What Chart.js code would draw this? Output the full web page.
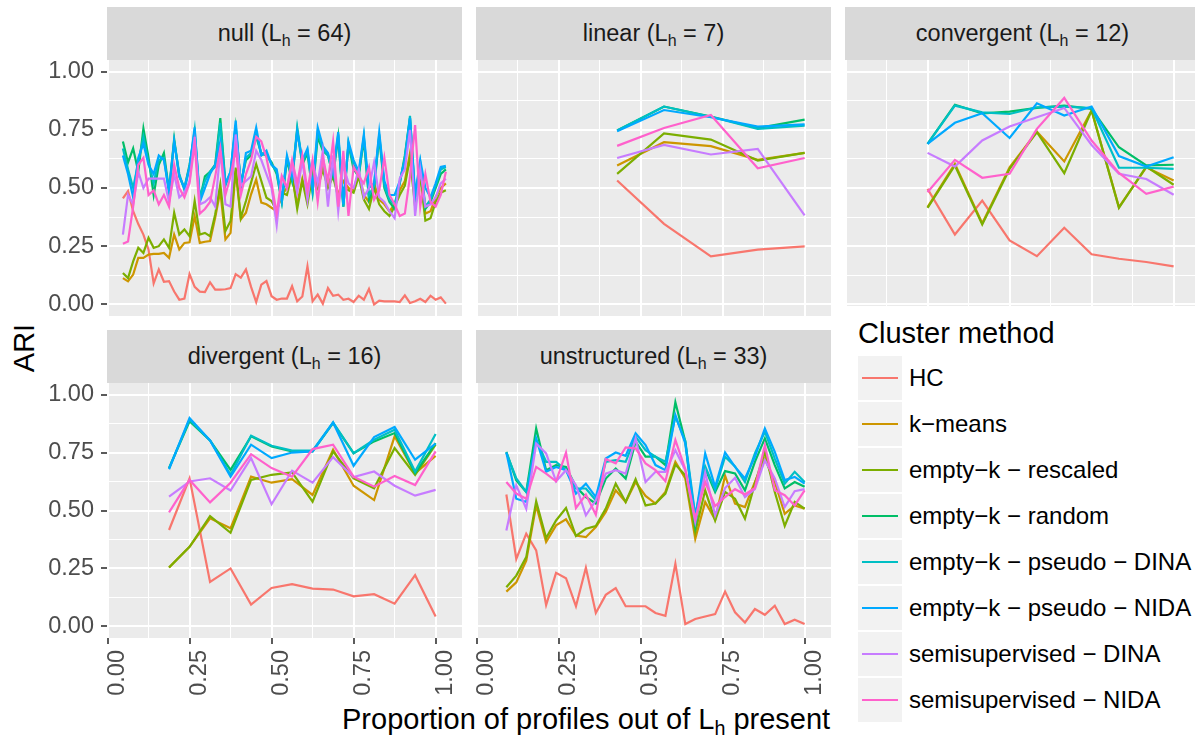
<!DOCTYPE html>
<html><head><meta charset="utf-8">
<script src="https://cdn.jsdelivr.net/npm/chart.js@4.4.0/dist/chart.umd.min.js"></script>
<style>
html,body{margin:0;padding:0;background:#fff;width:1195px;height:742px;overflow:hidden;position:relative;font-family:"Liberation Sans",Arial,Helvetica,sans-serif;}
canvas{position:absolute;}
.strip{position:absolute;background:#D9D9D9;color:#1A1A1A;font-size:23.5px;display:flex;align-items:center;justify-content:center;white-space:nowrap;}
.sub{font-size:68%;position:relative;top:0.32em;}
#legend{position:absolute;left:845px;top:306px;width:350px;height:436px;background:#fff;z-index:5;}
#ltitle{position:absolute;left:13px;top:13px;font-size:29px;line-height:29px;color:#000;white-space:nowrap;}
.litem{position:absolute;left:13px;height:43px;width:330px;}
.lkey{position:absolute;left:0;top:0;width:43.5px;height:43.5px;background:#F2F2F2;}
.lline{position:absolute;left:4px;width:36px;top:20.5px;height:2.2px;}
.ltext{position:absolute;left:51px;top:0;height:43.5px;line-height:43.5px;font-size:24px;color:#000;white-space:nowrap;}
#xtitle{position:absolute;left:342px;top:705px;font-size:29px;line-height:29px;color:#000;white-space:nowrap;}
#ytitle{position:absolute;left:24px;top:348px;font-size:29px;line-height:29px;color:#000;white-space:nowrap;transform:translate(-50%,-50%) rotate(-90deg);}
</style></head><body>
<div id="xtitle">Proportion of profiles out of L<span class="sub">h</span> present</div>
<div id="ytitle">ARI</div>
<div id="legend"><div id="ltitle">Cluster method</div></div>
<script>
// ---------- categories ----------
const seriesNames = ['HC','k\u2212means','empty\u2212k \u2212 rescaled','empty\u2212k \u2212 random','empty\u2212k \u2212 pseudo \u2212 DINA','empty\u2212k \u2212 pseudo \u2212 NIDA','semisupervised \u2212 DINA','semisupervised \u2212 NIDA'];
const seriesColors = ['#F8766D','#CD9600','#7CAE00','#00BE67','#00BFC4','#00A9FF','#C77CFF','#FF61CC'];
const panelNames = ['null','linear','convergent','divergent','unstructured'];
const panelLh = [64,7,12,16,33];
const panelKFirst = [3,3,3,3,3];
const panelKLast = [66,7,12,16,33];
const yMajorTicks = [0,0.25,0.5,0.75,1];
const yMinorTicks = [0.125,0.375,0.625,0.875];
const xMajorTicks = [0,0.25,0.5,0.75,1];
const xMinorTicks = [0.125,0.375,0.625,0.875];
const xLimits = [-0.0016,1.0804];
const yLimits = [-0.05,1.05];

// ---------- null (L_h = 64), k = 3..66 ----------
const null_HC = [0.455,0.487,0.40,0.345,0.30,0.235,0.09,0.15, 0.097,0.10,0.055,0.02,0.025,0.13,0.075,0.055, 0.053,0.095,0.063,0.063,0.065,0.07,0.13,0.115, 0.15,0.075,0.01,0.085,0.10,0.035,0.02,0.025, 0.025,0.078,0.013,0.034,0.164,0.013,0.042,0.003, 0.07,0.037,0.042,0.02,0.024,0.01,0.037,0.02, 0.066,0.0,0.016,0.013,0.013,0.013,0.01,0.039, 0.006,0.013,0.024,0.01,0.037,0.02,0.03,0.003];
const null_KM = [0.113,0.099,0.128,0.20,0.20,0.214,0.217,0.217, 0.221,0.20,0.30,0.236,0.264,0.267,0.379,0.264, 0.269,0.272,0.372,0.487,0.279,0.307,0.573,0.365, 0.394,0.473,0.537,0.437,0.43,0.415,0.40,0.47, 0.50,0.55,0.43,0.54,0.45,0.58,0.52,0.60, 0.51,0.57,0.47,0.53,0.50,0.49,0.57,0.47, 0.44,0.52,0.45,0.43,0.40,0.43,0.49,0.53, 0.65,0.44,0.57,0.39,0.40,0.46,0.50,0.52];
const null_RS = [0.135,0.113,0.185,0.243,0.221,0.286,0.243,0.25, 0.279,0.243,0.394,0.30,0.322,0.293,0.444,0.30, 0.307,0.293,0.386,0.516,0.315,0.358,0.588,0.372, 0.444,0.523,0.602,0.53,0.458,0.444,0.40,0.48, 0.47,0.56,0.41,0.53,0.43,0.56,0.50,0.58, 0.50,0.55,0.46,0.50,0.49,0.48,0.55,0.45, 0.41,0.50,0.43,0.40,0.38,0.42,0.47,0.51, 0.63,0.42,0.55,0.36,0.37,0.44,0.48,0.49];
const null_RD = [0.70,0.61,0.67,0.57,0.755,0.63,0.47,0.60, 0.65,0.49,0.71,0.55,0.50,0.60,0.73,0.45, 0.55,0.57,0.60,0.80,0.52,0.56,0.76,0.52, 0.62,0.64,0.72,0.65,0.64,0.61,0.56,0.44, 0.62,0.53,0.75,0.60,0.65,0.48,0.72,0.66, 0.64,0.55,0.72,0.42,0.69,0.58,0.55,0.71, 0.45,0.50,0.72,0.50,0.44,0.41,0.52,0.64, 0.80,0.45,0.60,0.41,0.44,0.50,0.56,0.58];
const null_PD = [0.67,0.58,0.50,0.61,0.72,0.61,0.52,0.62, 0.63,0.48,0.70,0.56,0.49,0.59,0.75,0.46, 0.53,0.57,0.59,0.78,0.51,0.57,0.77,0.51, 0.63,0.65,0.74,0.64,0.65,0.60,0.57,0.44, 0.63,0.54,0.76,0.61,0.66,0.49,0.74,0.67, 0.64,0.56,0.73,0.42,0.69,0.60,0.56,0.72, 0.47,0.51,0.73,0.51,0.45,0.43,0.52,0.63, 0.81,0.46,0.61,0.42,0.45,0.51,0.58,0.59];
const null_PN = [0.64,0.56,0.46,0.63,0.69,0.60,0.56,0.64, 0.62,0.49,0.70,0.55,0.50,0.59,0.76,0.44, 0.50,0.56,0.60,0.70,0.52,0.57,0.79,0.50, 0.65,0.66,0.76,0.64,0.66,0.60,0.58,0.45, 0.64,0.55,0.74,0.62,0.67,0.50,0.76,0.68, 0.65,0.57,0.74,0.43,0.70,0.62,0.57,0.73, 0.50,0.52,0.74,0.53,0.47,0.47,0.53,0.62, 0.80,0.47,0.62,0.50,0.46,0.52,0.59,0.595];
const null_SD = [0.30,0.47,0.43,0.57,0.50,0.54,0.54,0.54, 0.54,0.44,0.56,0.46,0.48,0.53,0.72,0.43, 0.44,0.46,0.42,0.66,0.43,0.42,0.73,0.51, 0.53,0.55,0.66,0.62,0.56,0.50,0.34,0.55, 0.50,0.60,0.48,0.62,0.45,0.61,0.52,0.66, 0.42,0.64,0.40,0.60,0.52,0.50,0.58,0.46, 0.50,0.61,0.46,0.44,0.40,0.37,0.54,0.58, 0.75,0.38,0.58,0.42,0.43,0.46,0.52,0.54];
const null_SN = [0.26,0.27,0.42,0.60,0.63,0.47,0.49,0.43, 0.47,0.42,0.60,0.50,0.46,0.52,0.69,0.39, 0.41,0.44,0.55,0.67,0.47,0.55,0.67,0.47, 0.56,0.62,0.72,0.70,0.63,0.52,0.39,0.55, 0.50,0.62,0.52,0.64,0.49,0.62,0.44,0.63, 0.53,0.70,0.42,0.66,0.38,0.59,0.55,0.52, 0.59,0.45,0.49,0.63,0.47,0.43,0.38,0.39, 0.55,0.77,0.42,0.56,0.44,0.42,0.47,0.57];

// ---------- linear (L_h = 7), k = 3..7 ----------
const linear_HC = [0.532,0.346,0.206,0.235,0.249];
const linear_KM = [0.597,0.697,0.680,0.621,0.651];
const linear_RS = [0.561,0.735,0.708,0.618,0.651];
const linear_RD = [0.747,0.850,0.807,0.757,0.794];
const linear_PD = [0.747,0.850,0.806,0.754,0.768];
const linear_PN = [0.744,0.835,0.804,0.764,0.773];
const linear_SD = [0.629,0.685,0.644,0.668,0.382];
const linear_SN = [0.681,0.758,0.814,0.585,0.629];

// ---------- convergent (L_h = 12), k = 3..12 ----------
const conv_HC = [0.496,0.300,0.446,0.275,0.207,0.329,0.215,0.196,0.182,0.163];
const conv_KM = [0.418,0.604,0.349,0.589,0.742,0.614,0.833,0.418,0.589,0.532];
const conv_RS = [0.415,0.597,0.343,0.582,0.740,0.564,0.833,0.415,0.592,0.514];
const conv_RD = [0.690,0.858,0.821,0.828,0.844,0.854,0.840,0.675,0.597,0.600];
const conv_PD = [0.690,0.854,0.825,0.818,0.847,0.850,0.844,0.587,0.587,0.582];
const conv_PN = [0.690,0.780,0.821,0.715,0.864,0.811,0.850,0.637,0.592,0.632];
const conv_SD = [0.651,0.592,0.704,0.764,0.804,0.844,0.685,0.561,0.539,0.471];
const conv_SN = [0.482,0.621,0.544,0.561,0.754,0.887,0.704,0.565,0.475,0.506];

// ---------- divergent (L_h = 16), k = 3..16 ----------
const div_HC = [0.416,0.639,0.192,0.250,0.094,0.166,0.182,0.163,0.159,0.130,0.139,0.098,0.221,0.043];
const div_KM = [0.254,0.343,0.466,0.423,0.646,0.620,0.635,0.567,0.762,0.607,0.545,0.820,0.661,0.736];
const div_RS = [0.254,0.343,0.476,0.404,0.632,0.654,0.664,0.538,0.755,0.639,0.596,0.769,0.654,0.784];
const div_RD = [0.683,0.885,0.802,0.675,0.820,0.776,0.755,0.755,0.877,0.747,0.798,0.834,0.661,0.791];
const div_PD = [0.683,0.892,0.802,0.654,0.823,0.779,0.758,0.758,0.880,0.747,0.805,0.848,0.668,0.830];
const div_PN = [0.678,0.899,0.802,0.646,0.784,0.726,0.750,0.755,0.880,0.693,0.817,0.860,0.719,0.788];
const div_SD = [0.560,0.625,0.639,0.586,0.726,0.527,0.672,0.620,0.730,0.644,0.668,0.607,0.564,0.589];
const div_SN = [0.492,0.632,0.535,0.620,0.743,0.683,0.646,0.765,0.784,0.646,0.603,0.649,0.610,0.755];

// ---------- unstructured (L_h = 33), k = 3..33 ----------
const uns_HC = [0.569,0.291,0.400,0.328,0.092,0.231,0.208,0.087,0.253,0.058,0.136,0.165,0.087,0.087,0.087,0.058,0.046,0.270,0.010,0.032,0.043,0.053,0.150,0.061,0.017,0.075,0.050,0.089,0.010,0.029,0.010];
const uns_KM = [0.150,0.190,0.284,0.522,0.364,0.436,0.462,0.392,0.385,0.429,0.494,0.587,0.537,0.623,0.563,0.530,0.580,0.710,0.638,0.378,0.537,0.460,0.650,0.530,0.515,0.623,0.724,0.623,0.486,0.522,0.508];
const uns_RS = [0.169,0.219,0.299,0.540,0.381,0.457,0.511,0.390,0.421,0.433,0.508,0.616,0.537,0.635,0.522,0.530,0.573,0.698,0.652,0.407,0.587,0.457,0.580,0.551,0.465,0.616,0.753,0.580,0.433,0.537,0.508];
const uns_RD = [0.753,0.630,0.580,0.854,0.674,0.696,0.688,0.602,0.558,0.530,0.638,0.681,0.638,0.797,0.732,0.732,0.696,0.967,0.797,0.436,0.681,0.580,0.670,0.660,0.587,0.710,0.811,0.696,0.595,0.623,0.602];
const uns_PD = [0.750,0.638,0.580,0.804,0.710,0.710,0.674,0.595,0.595,0.544,0.710,0.717,0.710,0.818,0.760,0.732,0.710,0.905,0.800,0.479,0.690,0.590,0.732,0.690,0.623,0.746,0.840,0.724,0.616,0.667,0.623];
const uns_PN = [0.750,0.551,0.537,0.811,0.667,0.688,0.674,0.573,0.616,0.558,0.724,0.750,0.736,0.833,0.782,0.696,0.674,0.912,0.789,0.465,0.746,0.602,0.750,0.688,0.638,0.732,0.854,0.753,0.631,0.645,0.616];
const uns_SD = [0.414,0.609,0.508,0.789,0.746,0.626,0.674,0.609,0.479,0.544,0.659,0.674,0.659,0.811,0.623,0.667,0.667,0.760,0.674,0.450,0.664,0.479,0.597,0.641,0.558,0.592,0.717,0.638,0.515,0.583,0.592];
const uns_SN = [0.623,0.573,0.551,0.688,0.659,0.626,0.750,0.511,0.569,0.482,0.722,0.703,0.772,0.768,0.703,0.674,0.626,0.804,0.678,0.465,0.623,0.519,0.558,0.592,0.569,0.597,0.782,0.587,0.566,0.522,0.587];

const panelSeries = [
  [null_HC,null_KM,null_RS,null_RD,null_PD,null_PN,null_SD,null_SN],
  [linear_HC,linear_KM,linear_RS,linear_RD,linear_PD,linear_PN,linear_SD,linear_SN],
  [conv_HC,conv_KM,conv_RS,conv_RD,conv_PD,conv_PN,conv_SD,conv_SN],
  [div_HC,div_KM,div_RS,div_RD,div_PD,div_PN,div_SD,div_SN],
  [uns_HC,uns_KM,uns_RS,uns_RD,uns_PD,uns_PN,uns_SD,uns_SN]
];

// ---------- layout (positions only) ----------
const colLeft = [107,476,845];
const rowTop = [60,383];
const rowH = [256,255];
const stripTop = [7,330];
const panelW = 355;
const xAxisH = 75;
const panelPos = [
  {col:0,row:0,yAxis:true,xAxis:false,leftPad:67},
  {col:1,row:0,yAxis:false,xAxis:false,leftPad:0},
  {col:2,row:0,yAxis:false,xAxis:false,leftPad:0},
  {col:0,row:1,yAxis:true,xAxis:true,leftPad:67},
  {col:1,row:1,yAxis:false,xAxis:true,leftPad:14}
];
const FONT = '"Liberation Sans", Arial, Helvetica, sans-serif';

const bgPlugin = {
  id:'panelBg',
  beforeDraw(chart){
    const {ctx, chartArea:a} = chart;
    ctx.save(); ctx.fillStyle = '#EBEBEB';
    ctx.fillRect(a.left, a.top, a.right-a.left, a.bottom-a.top);
    ctx.restore();
  }
};

function isMajor(list, v){ return list.some(t => Math.abs(t - v) < 1e-9); }
function noPad(s){ s.paddingTop = 0; s.paddingBottom = 0; s.paddingLeft = 0; s.paddingRight = 0; }

panelNames.forEach((name, p) => {
  const pos = panelPos[p];
  // strip
  const strip = document.createElement('div');
  strip.className = 'strip';
  strip.style.left = colLeft[pos.col] + 'px';
  strip.style.top = stripTop[pos.row] + 'px';
  strip.style.width = panelW + 'px';
  strip.style.height = (rowTop[pos.row] - stripTop[pos.row]) + 'px';
  strip.innerHTML = '<span>' + name + ' (L<span class="sub">h</span> = ' + panelLh[p] + ')</span>';
  document.body.appendChild(strip);

  const cv = document.createElement('canvas');
  const w = panelW + pos.leftPad;
  const h = rowH[pos.row] + (pos.xAxis ? xAxisH : 0);
  cv.width = w; cv.height = h;
  cv.style.left = (colLeft[pos.col] - pos.leftPad) + 'px';
  cv.style.top = rowTop[pos.row] + 'px';
  cv.style.width = w + 'px'; cv.style.height = h + 'px';
  document.body.appendChild(cv);

  const xs = [];
  for (let k = panelKFirst[p]; k <= panelKLast[p]; k++) xs.push(k / panelLh[p]);

  const datasets = panelSeries[p].map((vals, i) => ({
    label: seriesNames[i],
    data: vals.map((v, j) => ({x: xs[j], y: v})),
    borderColor: seriesColors[i],
    backgroundColor: seriesColors[i],
    borderWidth: 2.2,
    pointRadius: 0,
    fill: false,
    tension: 0,
    order: seriesNames.length - 1 - i
  }));

  const xTickVals = xMajorTicks.concat(xMinorTicks).sort((a,b)=>a-b);
  const yTickVals = yMajorTicks.concat(yMinorTicks).sort((a,b)=>a-b);

  new Chart(cv.getContext('2d'), {
    type: 'line',
    data: {datasets},
    plugins: [bgPlugin],
    options: {
      responsive: false, animation: false, devicePixelRatio: 1,
      layout: {padding: 0, autoPadding: false},
      plugins: {legend: {display: false}, tooltip: {enabled: false}, title: {display: false}},
      scales: {
        x: {
          type: 'linear', min: xLimits[0], max: xLimits[1],
          afterBuildTicks: s => { s.ticks = xTickVals.map(v => ({value: v})); },
          afterFit: s => { s.height = pos.xAxis ? xAxisH : 0; noPad(s); },
          border: {display: false},
          grid: {
            color: '#FFFFFF',
            lineWidth: c => (c.tick && isMajor(xMajorTicks, c.tick.value)) ? 2 : 1,
            drawTicks: pos.xAxis, tickLength: 6,
            tickColor: c => (c.tick && isMajor(xMajorTicks, c.tick.value)) ? '#333333' : 'rgba(0,0,0,0)',
            tickWidth: 1.6
          },
          ticks: {
            display: pos.xAxis, autoSkip: false, minRotation: 90, maxRotation: 90, padding: 6, labelOffset: 10,
            color: '#4D4D4D', font: {family: FONT, size: 23.5},
            callback: v => isMajor(xMajorTicks, v) ? v.toFixed(2) : ''
          }
        },
        y: {
          type: 'linear', min: yLimits[0], max: yLimits[1],
          afterBuildTicks: s => { s.ticks = yTickVals.map(v => ({value: v})); },
          afterFit: s => { s.width = pos.leftPad; noPad(s); },
          border: {display: false},
          grid: {
            color: '#FFFFFF',
            lineWidth: c => (c.tick && isMajor(yMajorTicks, c.tick.value)) ? 2 : 1,
            drawTicks: pos.yAxis, tickLength: 6,
            tickColor: c => (c.tick && isMajor(yMajorTicks, c.tick.value)) ? '#333333' : 'rgba(0,0,0,0)',
            tickWidth: 1.6
          },
          ticks: {
            display: pos.yAxis, autoSkip: false, padding: 7,
            color: '#4D4D4D', font: {family: FONT, size: 23.5},
            callback: v => isMajor(yMajorTicks, v) ? v.toFixed(2) : ''
          }
        }
      }
    }
  });
});

// legend
const leg = document.getElementById('legend');
seriesNames.forEach((n, i) => {
  const it = document.createElement('div');
  it.className = 'litem';
  it.style.top = (50 + 46 * i) + 'px';
  it.innerHTML = '<div class="lkey"><div class="lline" style="background:' + seriesColors[i] + '"></div></div><div class="ltext">' + n + '</div>';
  leg.appendChild(it);
});
</script>
</body></html>
